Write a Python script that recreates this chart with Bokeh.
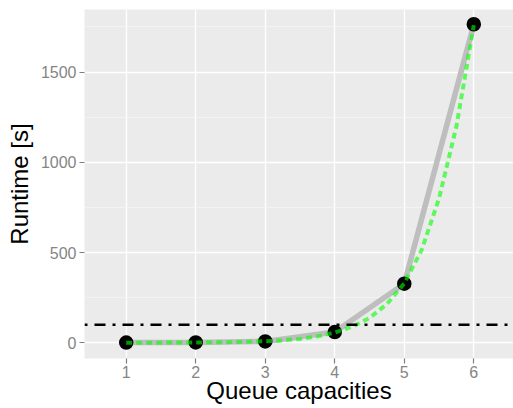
from bokeh.plotting import figure
from bokeh.models import Range1d, FixedTicker, Span
from bokeh.embed import file_html
from bokeh.resources import INLINE

# Data
capacities = [1, 2, 3, 4, 5, 6]
runtimes = [2, 3, 8, 60, 328, 1765]

# Fitted (exponential-looking) curve
fit_x = [1, 1.5, 2, 2.5, 3, 3.25, 3.5, 3.75, 4, 4.25, 4.5, 4.75, 5, 5.25, 5.5, 5.75, 6]
fit_y = [1, 1.5, 2.5, 4.5, 9, 14, 22, 36, 57, 90, 138, 215, 330, 515, 800, 1200, 1760]

threshold = 100

x_ticks = [1, 2, 3, 4, 5, 6]
y_ticks = [0, 500, 1000, 1500]
y_minor = [250, 750, 1250, 1750]

FONT = "Liberation Sans"

p = figure(width=513, height=408,
           x_range=Range1d(0.4, 6.571), y_range=Range1d(-86.3, 1846.7),
           output_backend="svg", toolbar_location=None,
           min_border_left=84, min_border_right=0, min_border_top=9, min_border_bottom=50,
           background_fill_color="#EBEBEB", border_fill_color="white",
           outline_line_color=None)

# grids
p.xgrid.ticker = FixedTicker(ticks=x_ticks)
p.ygrid.ticker = FixedTicker(ticks=y_ticks, minor_ticks=y_minor)
p.xgrid.grid_line_color = "white"
p.ygrid.grid_line_color = "white"
p.xgrid.grid_line_width = 1.3
p.ygrid.grid_line_width = 1.3
p.ygrid.minor_grid_line_color = "#F5F5F5"
p.ygrid.minor_grid_line_width = 0.8

for ax, ticks in ((p.xaxis[0], x_ticks), (p.yaxis[0], y_ticks)):
    ax.ticker = FixedTicker(ticks=ticks)
    ax.axis_line_color = None
    ax.major_tick_line_color = "#7F7F7F"
    ax.major_tick_line_width = 1.2
    ax.major_tick_in = 0
    ax.major_tick_out = 5
    ax.minor_tick_line_color = None
    ax.major_label_text_font = FONT
    ax.major_label_text_font_size = "16px"
    ax.major_label_text_color = "#858585"
    ax.axis_label_text_font = FONT
    ax.axis_label_text_font_size = "24px"
    ax.axis_label_text_font_style = "normal"
    ax.axis_label_text_color = "black"

p.xaxis.axis_label = "Queue capacities"
p.yaxis.axis_label = "Runtime [s]"
p.xaxis.major_label_standoff = 2
p.xaxis.axis_label_standoff = -4
p.yaxis.major_label_standoff = 3
p.yaxis.axis_label_standoff = 5

# grey line through measurements
p.line(capacities, runtimes, line_color="#BEBEBE", line_width=5.5)
# points
p.scatter(capacities, runtimes, size=12.5, fill_color="black", line_color="black", line_width=2)
# fitted curve, semi-transparent green dotted
p.line(fit_x, fit_y, line_color="#00FF00", line_alpha=0.6, line_width=4, line_dash="6 4")
# threshold
p.add_layout(Span(location=threshold, dimension="width", line_color="black",
                  line_width=2.5, line_dash="3 7 11 7"))

open("out.html", "w").write(file_html(p, INLINE))
